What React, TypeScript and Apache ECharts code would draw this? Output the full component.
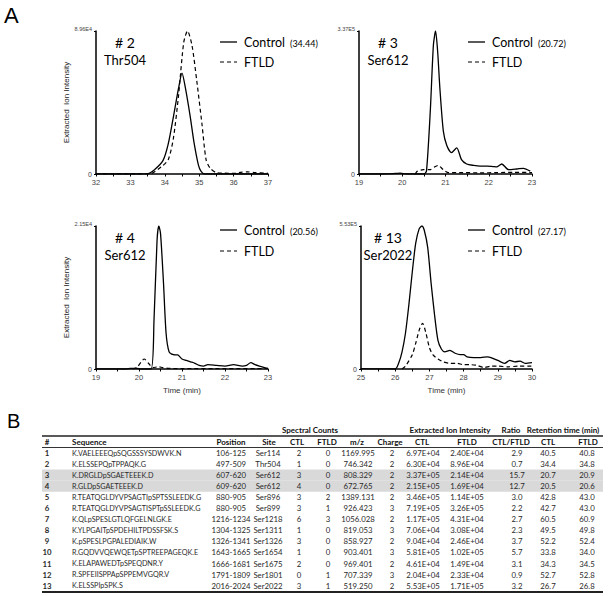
import React, { useEffect, useRef } from "react";
import * as echarts from "echarts";

// ---------- Panel A data (relative intensity: fraction of each panel's axis maximum) ----------
const p1Max = "8.96E4";
const p1CtlT = [32, 32.5, 33, 33.5, 33.7, 33.95, 34.1, 34.25, 34.4, 34.5, 34.6, 34.74, 34.85, 34.98, 35.05, 35.15, 35.5, 36, 36.5, 37];
const p1CtlV = [0, 0, 0, 0.003, 0.03, 0.095, 0.21, 0.4, 0.6, 0.706, 0.6, 0.4, 0.22, 0.06, 0.02, 0, 0, 0, 0, 0];
const p1FtT = [32, 32.5, 33, 33.55, 33.9, 34.1, 34.25, 34.4, 34.55, 34.66, 34.79, 34.93, 35.08, 35.2, 35.32, 35.5, 36, 36.2, 36.4, 36.6, 37];
const p1FtV = [0, 0, 0, 0, 0.05, 0.1, 0.25, 0.55, 0.92, 1.0, 0.9, 0.65, 0.35, 0.1, 0.04, 0.01, 0.005, 0.012, 0.015, 0.01, 0.005];

const p2Max = "3.37E5";
const p2CtlT = [19, 19.5, 19.85, 19.95, 20.1, 20.5, 20.56, 20.65, 20.72, 20.77, 20.82, 20.87, 20.95, 21.03, 21.14, 21.26, 21.37, 21.49, 21.65, 21.8, 21.96, 22.1, 22.19, 22.3, 22.46, 22.65, 22.8, 22.96];
const p2CtlV = [0, 0, 0.004, 0.006, 0, 0, 0.02, 0.45, 0.9, 1.0, 0.85, 0.6, 0.3, 0.2, 0.15, 0.183, 0.1, 0.07, 0.06, 0.055, 0.055, 0.052, 0.05, 0.07, 0.03, 0.035, 0.04, 0.02];
const p2FtT = [20.3, 20.35, 20.49, 20.64, 20.75, 20.83, 20.95, 21.07, 21.4, 21.8, 22.2, 22.6, 23];
const p2FtV = [0, 0.02, 0.03, 0.03, 0.05, 0.06, 0.03, 0.01, 0.01, 0.008, 0.01, 0.012, 0.01];

const p3Max = "2.15E4";
const p3CtlT = [19, 19.7, 19.8, 19.95, 20.05, 20.28, 20.35, 20.42, 20.46, 20.5, 20.57, 20.63, 20.7, 20.8, 20.9, 21.0, 21.1, 21.2, 21.3, 21.4, 21.5, 21.6, 21.8, 22.0, 22.2, 22.4, 22.5, 22.6, 22.7, 22.8, 22.9, 23.0];
const p3CtlV = [0, 0, 0.005, 0.005, 0, 0, 0.35, 0.9, 1.0, 0.95, 0.6, 0.25, 0.12, 0.1, 0.098, 0.07, 0.06, 0.05, 0.04, 0.025, 0.02, 0.03, 0.025, 0.02, 0.03, 0.02, 0.025, 0.045, 0.03, 0.02, 0.012, 0.005];
const p3FtT = [19.85, 19.95, 20.05, 20.12, 20.22, 20.32, 20.45, 20.55, 20.7, 21, 22, 23];
const p3FtV = [0, 0.01, 0.05, 0.07, 0.04, 0.01, 0.015, 0.01, 0.005, 0.002, 0.002, 0.002];

const p4Max = "5.53E5";
const p4CtlT = [25, 25.5, 26.0, 26.1, 26.2, 26.3, 26.4, 26.5, 26.6, 26.7, 26.78, 26.85, 26.95, 27.05, 27.15, 27.25, 27.35, 27.45, 27.6, 27.75, 27.9, 28.0, 28.1, 28.3, 28.5, 28.7, 28.8, 29.0, 29.2, 29.35, 29.5, 29.65, 29.8, 30];
const p4CtlV = [0.002, 0.001, 0, 0.04, 0.12, 0.25, 0.45, 0.68, 0.88, 0.98, 1.0, 0.97, 0.85, 0.6, 0.38, 0.2, 0.14, 0.12, 0.13, 0.11, 0.1, 0.1, 0.085, 0.08, 0.08, 0.085, 0.08, 0.06, 0.04, 0.06, 0.05, 0.055, 0.04, 0.045];
const p4FtT = [26.2, 26.3, 26.5, 26.6, 26.7, 26.8, 26.9, 27.0, 27.1, 27.25, 27.4, 27.6, 27.8, 28.0, 28.2, 28.4, 28.6, 28.8, 29.0, 29.3, 29.6, 30];
const p4FtV = [0, 0.02, 0.1, 0.18, 0.27, 0.32, 0.25, 0.15, 0.1, 0.07, 0.05, 0.04, 0.04, 0.03, 0.03, 0.025, 0.01, 0.02, 0.02, 0.015, 0.02, 0.02];

const panelLabels = ["# 2", "# 3", "# 4", "# 13"];
const panelSites = ["Thr504", "Ser612", "Ser612", "Ser2022"];
const controlRT = ["(34.44)", "(20.72)", "(20.56)", "(27.17)"];
const xRanges = [[32, 37], [19, 23], [19, 23], [25, 30]];

// ---------- Panel B table data ----------
const groupHeaders = ["Spectral Counts", "Extracted Ion Intensity", "Ratio", "Retention time (min)"];
const colHeaders = ["#", "Sequence", "Position", "Site", "CTL", "FTLD", "m/z", "Charge", "CTL", "FTLD", "CTL/FTLD", "CTL", "FTLD"];
const rowNum = ["1", "2", "3", "4", "5", "6", "7", "8", "9", "10", "11", "12", "13"];
const sequences = [
  "K.VAELEEEQpSQGSSSYSDWVK.N",
  "K.ELSSEPQpTPPAQK.G",
  "K.DRGLDpSGAETEEEK.D",
  "R.GLDpSGAETEEEK.D",
  "R.TEATQGLDYVPSAGTIpSPTSSLEEDK.G",
  "R.TEATQGLDYVPSAGTISPTpSSLEEDK.G",
  "K.QLpSPESLGTLQFGELNLGK.E",
  "K.YLPGAITpSPDEHILTPDSSFSK.S",
  "K.pSPESLPGPALEDIAIK.W",
  "R.GQDVVQEWQETpSPTREEPAGEQK.E",
  "K.ELAPAWEDTpSPEQDNR.Y",
  "R.SPFEIISPPApSPPEMVGQR.V",
  "K.ELSSPIpSPK.S",
];
const positions = ["106-125", "497-509", "607-620", "609-620", "880-905", "880-905", "1216-1234", "1304-1325", "1326-1341", "1643-1665", "1666-1681", "1791-1809", "2016-2024"];
const sites = ["Ser114", "Thr504", "Ser612", "Ser612", "Ser896", "Ser899", "Ser1218", "Ser1311", "Ser1326", "Ser1654", "Ser1675", "Ser1801", "Ser2022"];
const scCtl = ["2", "1", "3", "4", "3", "3", "6", "1", "3", "1", "2", "0", "3"];
const scFtld = ["0", "0", "0", "0", "2", "1", "3", "0", "0", "0", "0", "1", "1"];
const mz = ["1169.995", "746.342", "808.329", "672.765", "1389.131", "926.423", "1056.028", "819.053", "858.927", "903.401", "969.401", "707.339", "519.250"];
const charge = ["2", "2", "2", "2", "2", "3", "2", "3", "2", "3", "2", "3", "2"];
const eiiCtl = ["6.97E+04", "6.30E+04", "3.37E+05", "2.15E+05", "3.46E+05", "7.19E+05", "1.17E+05", "7.06E+04", "9.04E+04", "5.81E+05", "4.61E+04", "2.04E+04", "5.53E+05"];
const eiiFtld = ["2.40E+04", "8.96E+04", "2.14E+04", "1.69E+04", "1.14E+05", "3.26E+05", "4.31E+04", "3.08E+04", "2.46E+04", "1.02E+05", "1.49E+04", "2.33E+04", "1.71E+05"];
const ratio = ["2.9", "0.7", "15.7", "12.7", "3.0", "2.2", "2.7", "2.3", "3.7", "5.7", "3.1", "0.9", "3.2"];
const rtCtl = ["40.5", "34.4", "20.7", "20.5", "42.8", "42.7", "60.5", "49.5", "52.2", "33.8", "34.3", "52.7", "26.7"];
const rtFtld = ["40.8", "34.8", "20.9", "20.6", "43.0", "43.0", "60.9", "49.8", "52.4", "34.0", "34.5", "52.8", "26.8"];
const highlightedRows = [3, 4];

const AXIS_FONT = "'Liberation Sans', Arial, sans-serif";
const TEXT_FONT = "Lato, 'Open Sans', sans-serif";

export default function App() {
  const ref = useRef<HTMLDivElement>(null);

  useEffect(() => {
    if (!ref.current) return;
    const chart = echarts.init(ref.current, null, { renderer: "svg" });

    const grids = [
      { left: 96, top: 31, width: 172, height: 143 },
      { left: 359, top: 31, width: 173, height: 143 },
      { left: 96, top: 226, width: 172, height: 143 },
      { left: 361, top: 226, width: 171, height: 143 },
    ];
    const maxLabels = [p1Max, p2Max, p3Max, p4Max];
    const seriesData = [
      [p1CtlT, p1CtlV, p1FtT, p1FtV],
      [p2CtlT, p2CtlV, p2FtT, p2FtV],
      [p3CtlT, p3CtlV, p3FtT, p3FtV],
      [p4CtlT, p4CtlV, p4FtT, p4FtV],
    ];

    const xAxis = grids.map((_, i) => ({
      type: "value",
      gridIndex: i,
      min: xRanges[i][0],
      max: xRanges[i][1],
      interval: 1,
      name: i >= 2 ? "Time (min)" : "",
      nameLocation: "middle",
      nameGap: 17,
      nameTextStyle: { fontSize: 8, fontFamily: AXIS_FONT, color: "#333" },
      axisLine: { show: true, lineStyle: { color: "#000", width: 1.5 } },
      axisTick: { show: true, length: 2.5, lineStyle: { color: "#000", width: 1 } },
      minorTick: { show: true, splitNumber: 2, length: 2.5, lineStyle: { color: "#000", width: 1 } },
      axisLabel: { fontSize: 7.5, fontFamily: AXIS_FONT, color: "#444", margin: 4 },
      splitLine: { show: false },
    }));

    const yAxis = grids.map((_, i) => ({
      type: "value",
      gridIndex: i,
      min: 0,
      max: 1,
      interval: 1,
      name: i % 2 === 0 ? "Extracted  Ion Intensity" : "",
      nameLocation: "middle",
      nameGap: 14,
      nameTextStyle: { fontSize: 8, fontFamily: AXIS_FONT, color: "#222" },
      axisLine: { show: true, lineStyle: { color: "#000", width: 1.5 } },
      axisTick: { show: true, length: 2, lineStyle: { color: "#000" } },
      axisLabel: {
        formatter: (v: number) => (v === 0 ? "{z|0}" : "{m|" + maxLabels[i] + "}"),
        margin: 4,
        rich: {
          z: { fontSize: 7, fontFamily: AXIS_FONT, color: "#444" },
          m: { fontSize: 5.5, fontFamily: AXIS_FONT, color: "#444", padding: [0, 0, 4, 0] },
        },
      },
      splitLine: { show: false },
    }));

    const series: any[] = [];
    seriesData.forEach((d, i) => {
      series.push({
        type: "line",
        name: "Control",
        xAxisIndex: i,
        yAxisIndex: i,
        data: d[0].map((t, k) => [t, d[1][k]]),
        showSymbol: false,
        smooth: 0.25,
        lineStyle: { color: "#000", width: 1.3, type: "solid" },
      });
      series.push({
        type: "line",
        name: "FTLD",
        xAxisIndex: i,
        yAxisIndex: i,
        data: d[2].map((t, k) => [t, d[3][k]]),
        showSymbol: false,
        smooth: 0.25,
        lineStyle: { color: "#000", width: 1.2, type: [4, 3] },
      });
    });

    const graphic: any[] = [];
    const txt = (text: string, x: number, y: number, opts: any = {}) => ({
      type: "text",
      x,
      y,
      style: {
        text,
        fill: opts.fill || "#111",
        fontSize: opts.fontSize || 8,
        fontFamily: opts.fontFamily || TEXT_FONT,
        fontWeight: opts.fontWeight || "normal",
        align: opts.align || "left",
        verticalAlign: "middle",
      },
      z: 10,
    });

    // Panel letters
    graphic.push(txt("A", 4, 15, { fontSize: 22, fontFamily: AXIS_FONT, fill: "#000" }));
    graphic.push(txt("B", 7, 421, { fontSize: 20, fontFamily: AXIS_FONT, fill: "#000" }));

    // Annotations and legends for each panel
    const annX = [125, 388, 125, 388];
    const legX = [220, 468, 220, 468];
    grids.forEach((g, i) => {
      const top = g.top;
      graphic.push(txt(panelLabels[i], annX[i], top + 11, { fontSize: 14, align: "center", fill: "#000" }));
      graphic.push(txt(panelSites[i], annX[i], top + 29, { fontSize: 13, align: "center", fill: "#000" }));
      const ly1 = top + (i < 2 ? 11 : 4);
      const ly2 = top + (i < 2 ? 31 : 25);
      graphic.push({ type: "line", shape: { x1: legX[i], y1: ly1, x2: legX[i] + 17, y2: ly1 }, style: { stroke: "#000", lineWidth: 1.3 }, z: 10 });
      graphic.push(txt("Control", legX[i] + 24, ly1, { fontSize: 12.5, fill: "#000" }));
      graphic.push(txt(controlRT[i], legX[i] + 70, ly1 + 1, { fontSize: 9, fill: "#000" }));
      graphic.push({ type: "line", shape: { x1: legX[i], y1: ly2, x2: legX[i] + 17, y2: ly2 }, style: { stroke: "#000", lineWidth: 1.2, lineDash: [4, 3] }, z: 10 });
      graphic.push(txt("FTLD", legX[i] + 24, ly2, { fontSize: 12.5, fill: "#000" }));
    });

    // Table
    const tLeft = 42;
    const tRight = 603;
    const rowY0 = 453;
    const rowH = 11.05;
    highlightedRows.forEach((r) => {
      graphic.push({
        type: "rect",
        shape: { x: tLeft, y: rowY0 + (r - 1) * rowH - rowH / 2, width: tRight - tLeft, height: rowH },
        style: { fill: "#d9d9d9" },
        z: 1,
      });
    });
    graphic.push({ type: "line", shape: { x1: tLeft, y1: 436, x2: tRight, y2: 436 }, style: { stroke: "#222", lineWidth: 1.5 }, z: 5 });
    graphic.push({ type: "line", shape: { x1: tLeft, y1: 447.5, x2: tRight, y2: 447.5 }, style: { stroke: "#333", lineWidth: 1 }, z: 5 });
    const lastY = rowY0 + 12 * rowH;
    graphic.push({ type: "line", shape: { x1: tLeft, y1: lastY + 6.5, x2: tRight, y2: lastY + 6.5 }, style: { stroke: "#222", lineWidth: 2 }, z: 5 });

    const groupX = [310, 450, 511, 563];
    groupHeaders.forEach((h, k) => graphic.push(txt(h, groupX[k], 430, { fontWeight: "bold", align: "center", fontSize: 8 })));

    const headX = [47, 72, 231, 269, 297, 327, 357, 390, 422, 467, 511, 548, 588];
    const headAlign = ["center", "left", "center", "center", "center", "center", "center", "center", "center", "center", "center", "center", "center"];
    colHeaders.forEach((h, k) => graphic.push(txt(h, headX[k], 442, { fontWeight: "bold", align: headAlign[k], fontSize: 8 })));

    const cols = [rowNum, sequences, positions, sites, scCtl, scFtld, mz, charge, eiiCtl, eiiFtld, ratio, rtCtl, rtFtld];
    const valX = [47, 72, 231, 268, 299, 328, 358, 392, 423, 467, 517, 548, 587];
    cols.forEach((col, k) => {
      col.forEach((v, r) => {
        graphic.push(
          txt(v, valX[k], rowY0 + r * rowH, {
            align: headAlign[k],
            fontSize: k === 1 ? 7.2 : 7.8,
            fontWeight: k === 0 ? "bold" : "normal",
            fill: "#2a2a2a",
          })
        );
      });
    });

    chart.setOption({
      animation: false,
      backgroundColor: "#fff",
      grid: grids.map((g) => ({ ...g, containLabel: false })),
      xAxis,
      yAxis,
      series,
      graphic,
    });

    return () => chart.dispose();
  }, []);

  return (
    <div
      ref={ref}
      style={{ position: "fixed", left: 0, top: 0, width: 614, height: 596, background: "#fff" }}
    />
  );
}
